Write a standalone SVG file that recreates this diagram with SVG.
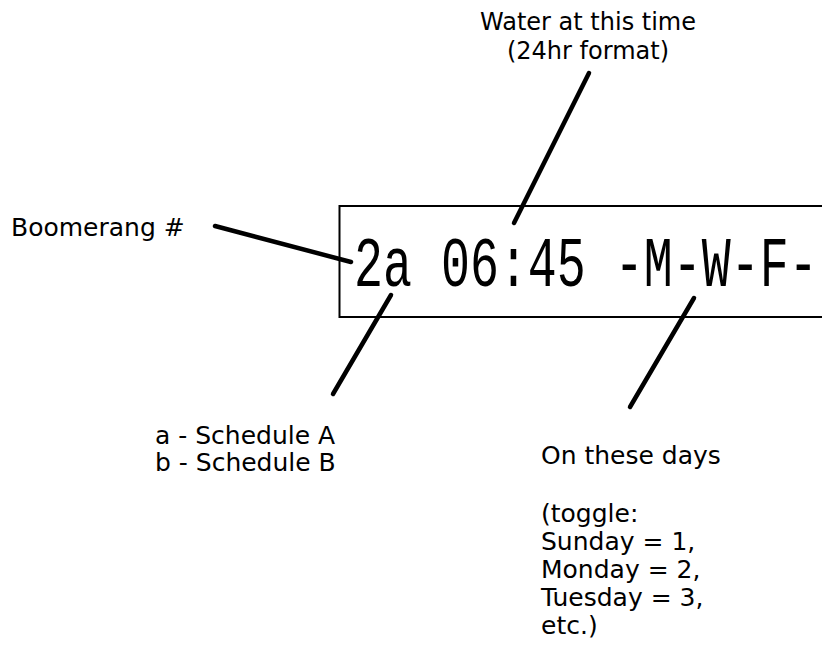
<svg xmlns="http://www.w3.org/2000/svg" width="822" height="665" viewBox="0 0 822 665">
<style>
.lbl{font-family:"DejaVu Sans","Verdana",sans-serif;font-size:25px;fill:#000}
.top{font-size:24px;text-anchor:middle}
.disp{font-family:"Liberation Mono","Courier New",monospace;font-size:70px;fill:#000}
.conn{stroke:#000;stroke-width:4.5;stroke-linecap:round;fill:none}
</style>
<rect width="822" height="665" fill="#fff"/>
<g id="display">
<rect x="339.5" y="206" width="500" height="111" fill="none" stroke="#000" stroke-width="2"/>
<g transform="translate(354,286) scale(0.69,1)"><text class="disp" x="0" y="0" xml:space="preserve">2a 06:45 -M-W-F-</text></g>
</g>
<g id="connectors">
<line class="conn" x1="215" y1="226" x2="351" y2="262"/>
<line class="conn" x1="589" y1="73" x2="514" y2="223"/>
<line class="conn" x1="391" y1="295" x2="333" y2="394"/>
<line class="conn" x1="694" y1="298" x2="630" y2="407"/>
</g>
<g id="time-label">
<text class="lbl top" x="588" y="30">Water at this time</text>
<text class="lbl top" x="588" y="59">(24hr format)</text>
</g>
<g id="boomerang-label">
<text class="lbl" x="11" y="236">Boomerang #</text>
</g>
<g id="schedule-label">
<text class="lbl" x="155" y="444">a - Schedule A</text>
<text class="lbl" x="155" y="471">b - Schedule B</text>
</g>
<g id="days-label">
<text class="lbl" x="541" y="464">On these days</text>
<text class="lbl" x="541" y="522">(toggle:</text>
<text class="lbl" x="541" y="550">Sunday = 1,</text>
<text class="lbl" x="541" y="578">Monday = 2,</text>
<text class="lbl" x="541" y="606">Tuesday = 3,</text>
<text class="lbl" x="541" y="634">etc.)</text>
</g>
</svg>
